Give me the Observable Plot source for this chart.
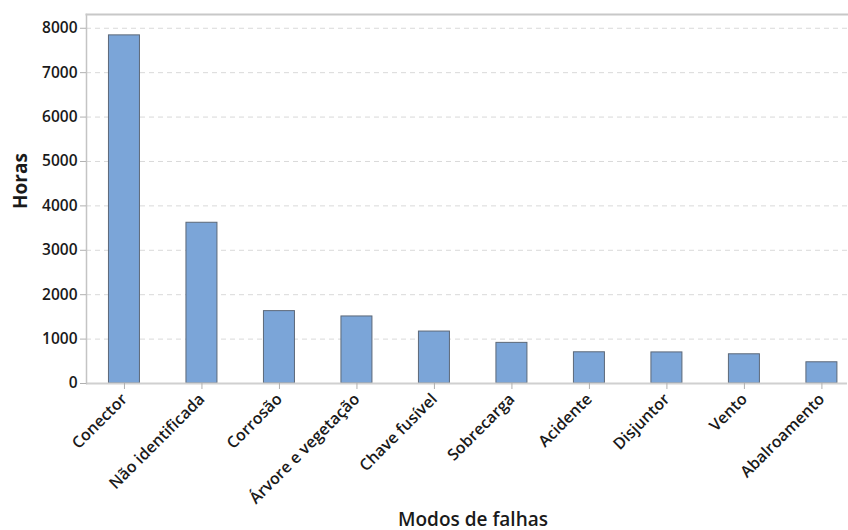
<!DOCTYPE html>
<html>
<head>
<meta charset="utf-8">
<script src="https://cdn.jsdelivr.net/npm/d3@7"></script>
<script src="https://cdn.jsdelivr.net/npm/@observablehq/plot@0.6"></script>
<style>
  html, body { margin: 0; padding: 0; background: #fff; }
  #chart { width: 848px; height: 530px; }
  svg { font-family: "Open Sans", "Noto Sans", sans-serif; }
</style>
</head>
<body>
<div id="chart"></div>
<script>
const categories = ["Conector", "Não identificada", "Corrosão", "Árvore e vegetação", "Chave fusível", "Sobrecarga", "Acidente", "Disjuntor", "Vento", "Abalroamento"];
const hours = [7840, 3620, 1630, 1510, 1170, 915, 703, 700, 658, 478];
const yTicks = [0, 1000, 2000, 3000, 4000, 5000, 6000, 7000, 8000];
const xTitle = "Modos de falhas";
const yTitle = "Horas";

const data = categories.map((c, i) => ({ modo: c, horas: hours[i] }));

const plot = Plot.plot({
  width: 848,
  height: 530,
  marginLeft: 86,
  marginRight: 1,
  marginTop: 14,
  marginBottom: 147,
  style: { fontFamily: "'Open Sans', 'Noto Sans', sans-serif", color: "#1a1a1a", background: "#fff" },
  x: { domain: categories, round: false, paddingInner: 0.6, paddingOuter: 0.21, align: 0.69, label: null },
  y: { domain: [0, 8310], label: null },
  marks: [
    Plot.gridY(yTicks, { stroke: "#d9d9d9", strokeOpacity: 1, strokeDasharray: "5,4" }),
    Plot.barY(data, { x: "modo", y: "horas", fill: "#7ba5d8", stroke: "#5c6878", strokeWidth: 1 }),
    Plot.ruleY([0], { stroke: "#d0d0d0", strokeWidth: 2 }),
    Plot.frame({ anchor: "left", stroke: "#c4c4c4", strokeWidth: 1.5 }),
    Plot.frame({ anchor: "top", stroke: "#c8c8c8", strokeWidth: 2 }),
    Plot.axisY(yTicks, { tickSize: 6, tickPadding: 3, tickFormat: d => String(d), stroke: "#b0b0b0", fontSize: 15.5, fontWeight: 600, fill: "#1a1a1a", label: null }),
    Plot.axisX({ tickSize: 6, stroke: "#b0b0b0", tickRotate: -45, tickPadding: 7, fontSize: 16, fontWeight: 600, fill: "#1a1a1a", label: null }),
    Plot.text([yTitle], { frameAnchor: "left", dx: -66, rotate: -90, fontSize: 19, fontWeight: 700, fill: "#1a1a1a", dy: 10 }),
    Plot.text([xTitle], { frameAnchor: "bottom", dy: 142, dx: 6, fontSize: 19, fontWeight: 600, fill: "#1a1a1a" })
  ]
});
document.getElementById("chart").appendChild(plot);
</script>
</body>
</html>
